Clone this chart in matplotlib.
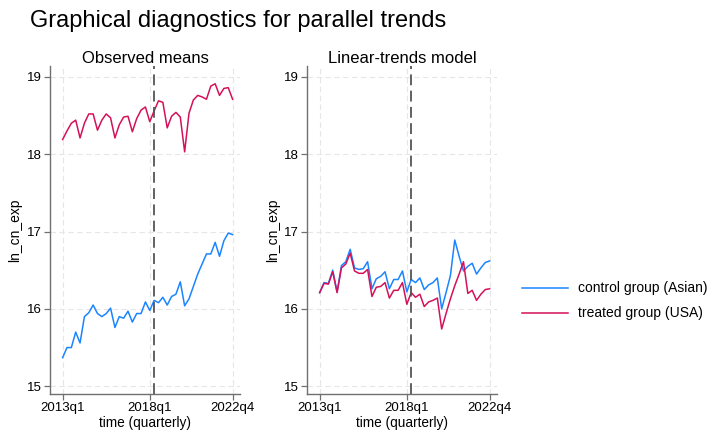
import matplotlib
matplotlib.use('Agg')
import matplotlib.pyplot as plt
import numpy as np

plt.rcParams['font.family'] = ['Liberation Sans', 'DejaVu Sans']

# quarters 2013q1 .. 2022q4 (index 0..39)
n_q = 40
tick_pos = [0, 20, 39]
tick_lab = ['2013q1', '2018q1', '2022q4']
treat_q = 21

obs_control = [15.37, 15.50, 15.50, 15.70, 15.56, 15.90, 15.95, 16.05, 15.94, 15.90,
               15.94, 16.01, 15.76, 15.90, 15.88, 15.97, 15.83, 15.94, 15.94, 16.09,
               15.98, 16.11, 16.08, 16.15, 16.05, 16.16, 16.19, 16.35, 16.04, 16.13,
               16.29, 16.45, 16.58, 16.71, 16.71, 16.86, 16.68, 16.88, 16.98, 16.96]
obs_treated = [18.19, 18.30, 18.40, 18.44, 18.21, 18.40, 18.52, 18.52, 18.31, 18.44,
               18.52, 18.47, 18.21, 18.38, 18.48, 18.49, 18.29, 18.46, 18.57, 18.61,
               18.42, 18.56, 18.69, 18.67, 18.34, 18.49, 18.54, 18.48, 18.03, 18.53,
               18.70, 18.76, 18.74, 18.71, 18.88, 18.91, 18.76, 18.85, 18.86, 18.71]

lt_control = [16.21, 16.34, 16.33, 16.50, 16.22, 16.56, 16.61, 16.77, 16.53, 16.51,
              16.52, 16.61, 16.26, 16.39, 16.42, 16.48, 16.26, 16.38, 16.38, 16.49,
              16.22, 16.38, 16.34, 16.40, 16.25, 16.31, 16.34, 16.40, 16.00, 16.21,
              16.43, 16.89, 16.68, 16.49, 16.55, 16.59, 16.45, 16.53, 16.60, 16.62]
lt_treated = [16.21, 16.33, 16.32, 16.48, 16.21, 16.53, 16.58, 16.72, 16.49, 16.46,
              16.46, 16.51, 16.16, 16.28, 16.29, 16.34, 16.14, 16.24, 16.24, 16.34,
              16.06, 16.21, 16.15, 16.19, 16.03, 16.09, 16.11, 16.14, 15.74, 15.94,
              16.13, 16.30, 16.45, 16.61, 16.20, 16.24, 16.11, 16.19, 16.25, 16.26]

c_blue = '#1a85ff'
c_red = '#d41159'

fig = plt.figure(figsize=(7.13, 4.33), dpi=100)
fig.text(0.042, 0.952, 'Graphical diagnostics for parallel trends', fontsize=17,
         ha='left', va='center')

ax1 = fig.add_axes([0.0701, 0.0901, 0.2665, 0.7575])
ax2 = fig.add_axes([0.4306, 0.0901, 0.2665, 0.7575])

x = np.arange(n_q)
panels = [(ax1, 'Observed means', obs_control, obs_treated),
          (ax2, 'Linear-trends model', lt_control, lt_treated)]

for ax, title, ctrl, trt in panels:
    ax.plot(x, ctrl, color=c_blue, lw=1.1, label='control group (Asian)')
    ax.plot(x, trt, color=c_red, lw=1.1, label='treated group (USA)')
    ax.axvline(treat_q, color='#555555', lw=1.3, ls=(0, (6, 3)))
    ax.set_xlim(-2.9, 40.7)
    ax.set_ylim(14.9, 19.14)
    ax.set_yticks([15, 16, 17, 18, 19])
    ax.set_xticks(tick_pos)
    ax.set_xticklabels(tick_lab)
    ax.grid(True, color='#e6e6e6', lw=0.8, ls=(0, (5, 3)))
    ax.set_axisbelow(True)
    for s in ['top', 'right']:
        ax.spines[s].set_visible(False)
    for s in ['left', 'bottom']:
        ax.spines[s].set_color('#707070')
        ax.spines[s].set_linewidth(1.0)
    ax.tick_params(colors='#707070', labelcolor='black', labelsize=9.5,
                   length=4, width=0.9, pad=2)
    ax.set_title(title, fontsize=12, pad=1)
    ax.set_xlabel('time (quarterly)', fontsize=9.8, labelpad=1)
    ax.set_ylabel('ln_cn_exp', fontsize=10, labelpad=3)

h, l = ax2.get_legend_handles_labels()
fig.legend(h, l, loc='center left', bbox_to_anchor=(0.715, 0.305), frameon=False,
           fontsize=10, handlelength=3.3, handletextpad=0.7, labelspacing=0.8)

fig.savefig('out.png', dpi=100)
